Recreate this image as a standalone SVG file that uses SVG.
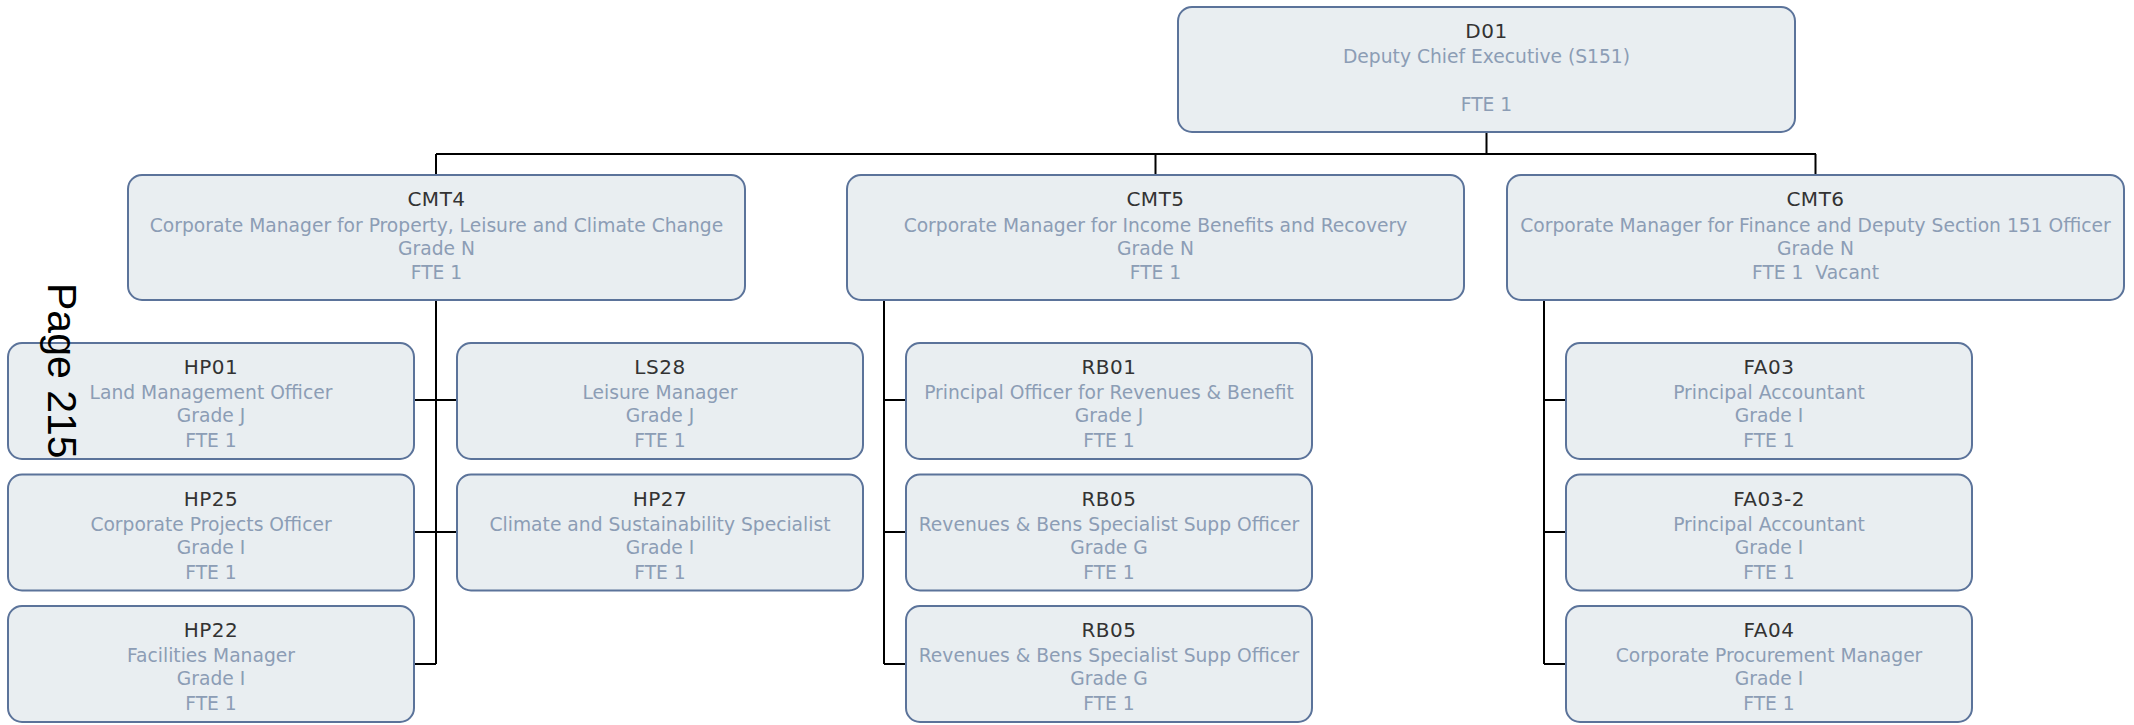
<svg xmlns="http://www.w3.org/2000/svg" width="2134" height="725" viewBox="0 0 2134 725">
<style>
.box{fill:#e9eef1;stroke:#5b739a;stroke-width:2}
.code{font-family:"DejaVu Sans","Liberation Sans",sans-serif;font-size:20px;letter-spacing:0.5px;fill:#333333;text-anchor:middle}
.t{font-family:"DejaVu Sans","Liberation Sans",sans-serif;font-size:18.7px;fill:#8c9db5;text-anchor:middle}
.conn{stroke:#000;stroke-width:2;fill:none}
.page{font-family:"Liberation Sans",Arial,sans-serif;font-size:41px;fill:#000}
</style>
<rect width="2134" height="725" fill="#ffffff"/>
<g id="connectors">
<path class="conn" d="M1486.5 132V154M436 154H1816M436 154V175M1155.5 154V175M1815.5 154V175"/>
<path class="conn" d="M436 300V664M414 400H457M414 532H457M414 664H436"/>
<path class="conn" d="M884 300V664M884 400H906M884 532H906M884 664H906"/>
<path class="conn" d="M1544 300V664M1544 400H1566M1544 532H1566M1544 664H1566"/>
</g>
<g id="D01"><rect class="box" x="1178" y="7" width="617" height="125" rx="14"/>
<text class="code" x="1486.5" y="38">D01</text><text class="t" x="1486.5" y="63">Deputy Chief Executive (S151)</text><text class="t" x="1486.5" y="111">FTE 1</text></g>
<g id="CMT4"><rect class="box" x="128" y="175" width="617" height="125" rx="14"/>
<text class="code" x="436.5" y="206">CMT4</text><text class="t" x="436.5" y="232">Corporate Manager for Property, Leisure and Climate Change</text><text class="t" x="436.5" y="255">Grade N</text><text class="t" x="436.5" y="279">FTE 1</text></g>
<g id="CMT5"><rect class="box" x="847" y="175" width="617" height="125" rx="14"/>
<text class="code" x="1155.5" y="206">CMT5</text><text class="t" x="1155.5" y="232">Corporate Manager for Income Benefits and Recovery</text><text class="t" x="1155.5" y="255">Grade N</text><text class="t" x="1155.5" y="279">FTE 1</text></g>
<g id="CMT6"><rect class="box" x="1507" y="175" width="617" height="125" rx="14"/>
<text class="code" x="1815.5" y="206">CMT6</text><text class="t" x="1815.5" y="232">Corporate Manager for Finance and Deputy Section 151 Officer</text><text class="t" x="1815.5" y="255">Grade N</text><text class="t" x="1815.5" y="279" xml:space="preserve">FTE 1  Vacant</text></g>
<g id="HP01"><rect class="box" x="8" y="343" width="406" height="116" rx="14"/>
<text class="code" x="211" y="374">HP01</text><text class="t" x="211" y="399">Land Management Officer</text><text class="t" x="211" y="422">Grade J</text><text class="t" x="211" y="447">FTE 1</text></g>
<g id="LS28"><rect class="box" x="457" y="343" width="406" height="116" rx="14"/>
<text class="code" x="660" y="374">LS28</text><text class="t" x="660" y="399">Leisure Manager</text><text class="t" x="660" y="422">Grade J</text><text class="t" x="660" y="447">FTE 1</text></g>
<g id="HP25"><rect class="box" x="8" y="474.5" width="406" height="116" rx="14"/>
<text class="code" x="211" y="505.5">HP25</text><text class="t" x="211" y="530.5">Corporate Projects Officer</text><text class="t" x="211" y="553.5">Grade I</text><text class="t" x="211" y="578.5">FTE 1</text></g>
<g id="HP27"><rect class="box" x="457" y="474.5" width="406" height="116" rx="14"/>
<text class="code" x="660" y="505.5">HP27</text><text class="t" x="660" y="530.5">Climate and Sustainability Specialist</text><text class="t" x="660" y="553.5">Grade I</text><text class="t" x="660" y="578.5">FTE 1</text></g>
<g id="HP22"><rect class="box" x="8" y="606" width="406" height="116" rx="14"/>
<text class="code" x="211" y="637">HP22</text><text class="t" x="211" y="662">Facilities Manager</text><text class="t" x="211" y="685">Grade I</text><text class="t" x="211" y="710">FTE 1</text></g>
<g id="RB01"><rect class="box" x="906" y="343" width="406" height="116" rx="14"/>
<text class="code" x="1109" y="374">RB01</text><text class="t" x="1109" y="399">Principal Officer for Revenues &amp; Benefit</text><text class="t" x="1109" y="422">Grade J</text><text class="t" x="1109" y="447">FTE 1</text></g>
<g id="RB05a"><rect class="box" x="906" y="474.5" width="406" height="116" rx="14"/>
<text class="code" x="1109" y="505.5">RB05</text><text class="t" x="1109" y="530.5">Revenues &amp; Bens Specialist Supp Officer</text><text class="t" x="1109" y="553.5">Grade G</text><text class="t" x="1109" y="578.5">FTE 1</text></g>
<g id="RB05b"><rect class="box" x="906" y="606" width="406" height="116" rx="14"/>
<text class="code" x="1109" y="637">RB05</text><text class="t" x="1109" y="662">Revenues &amp; Bens Specialist Supp Officer</text><text class="t" x="1109" y="685">Grade G</text><text class="t" x="1109" y="710">FTE 1</text></g>
<g id="FA03"><rect class="box" x="1566" y="343" width="406" height="116" rx="14"/>
<text class="code" x="1769" y="374">FA03</text><text class="t" x="1769" y="399">Principal Accountant</text><text class="t" x="1769" y="422">Grade I</text><text class="t" x="1769" y="447">FTE 1</text></g>
<g id="FA03-2"><rect class="box" x="1566" y="474.5" width="406" height="116" rx="14"/>
<text class="code" x="1769" y="505.5">FA03-2</text><text class="t" x="1769" y="530.5">Principal Accountant</text><text class="t" x="1769" y="553.5">Grade I</text><text class="t" x="1769" y="578.5">FTE 1</text></g>
<g id="FA04"><rect class="box" x="1566" y="606" width="406" height="116" rx="14"/>
<text class="code" x="1769" y="637">FA04</text><text class="t" x="1769" y="662">Corporate Procurement Manager</text><text class="t" x="1769" y="685">Grade I</text><text class="t" x="1769" y="710">FTE 1</text></g>
<text class="page" transform="translate(48,283) rotate(90)">Page 215</text>
</svg>
